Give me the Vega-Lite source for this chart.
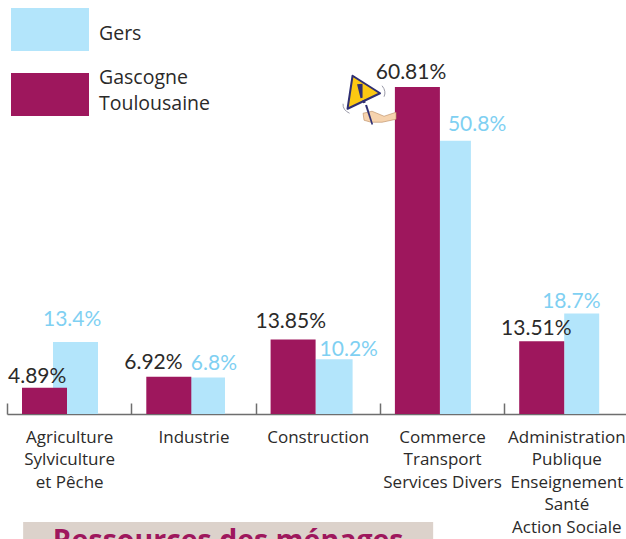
{"$schema":"https://vega.github.io/schema/vega-lite/v6.json","width":619,"height":414,"autosize":{"type":"none"},"padding":{"left":7,"top":0,"right":0,"bottom":125},"background":"white","config":{"view":{"stroke":null}},
"data":{"values":[
{"category":"Agriculture|Sylviculture|et Pêche","series":"Gers","value":13.4,"label":"13.4%"},
{"category":"Industrie","series":"Gers","value":6.8,"label":"6.8%"},
{"category":"Construction","series":"Gers","value":10.2,"label":"10.2%"},
{"category":"Commerce|Transport|Services Divers","series":"Gers","value":50.8,"label":"50.8%"},
{"category":"Administration|Publique|Enseignement|Santé|Action Sociale","series":"Gers","value":18.7,"label":"18.7%"},
{"category":"Agriculture|Sylviculture|et Pêche","series":"Gascogne|Toulousaine","value":4.89,"label":"4.89%"},
{"category":"Industrie","series":"Gascogne|Toulousaine","value":6.92,"label":"6.92%"},
{"category":"Construction","series":"Gascogne|Toulousaine","value":13.85,"label":"13.85%"},
{"category":"Commerce|Transport|Services Divers","series":"Gascogne|Toulousaine","value":60.81,"label":"60.81%"},
{"category":"Administration|Publique|Enseignement|Santé|Action Sociale","series":"Gascogne|Toulousaine","value":13.51,"label":"13.51%"}
]},
"encoding":{
"x":{"field":"category","type":"nominal","sort":null,"scale":{"type":"band","paddingInner":0,"paddingOuter":0,"range":[0,621.5],"domain":["Agriculture|Sylviculture|et Pêche","Industrie","Construction","Commerce|Transport|Services Divers","Administration|Publique|Enseignement|Santé|Action Sociale"]},"axis":{"title":null,"labelAngle":0,"labelExpr":"split(datum.label,'|')","labelFont":"Open Sans","labelFontSize":17,"labelColor":"#2b2a29","labelLineHeight":22.5,"labelPadding":26,"labelBaseline":"top","labelLimit":0,"labelOverlap":false,"tickBand":"extent","tickSize":-11,"tickColor":"#6e6e6e","tickWidth":1.5,"domainColor":"#6e6e6e","domainWidth":1.5,"grid":false,"zindex":0}},
"y":{"field":"value","type":"quantitative","stack":null,"scale":{"domain":[0,77],"nice":false,"zero":false,"clamp":false},"axis":null},
"color":{"field":"series","type":"nominal","scale":{"domain":["Gers","Gascogne|Toulousaine"],"range":["#b3e5fb","#9e175d"]},"legend":{"title":null,"orient":"none","legendX":4,"legendY":-9.5,"columns":1,"symbolType":"M-1,-0.551H1V0.551H-1Z","symbolSize":6084,"symbolStrokeWidth":0,"symbolOpacity":1,"labelExpr":"split(datum.label,'|')","labelFont":"Open Sans","labelFontSize":19.5,"labelColor":"#2b2a29","labelOffset":10,"labelLimit":0,"encode":{"symbols":{"update":{"shape":{"signal":"datum.label=='Gers'?'M-1,-0.551H1V0.551H-1Z':'M-1,-0.499H1V0.603H-1Z'"}}},"labels":{"update":{"lineHeight":{"value":26},"dy":{"signal":"datum.label=='Gers'?4.5:-15"}}}}}}
},
"layer":[
{"transform":[{"filter":{"field":"label","equal":"13.4%"}}],"mark":{"type":"bar","width":45,"xOffset":6.35}},
{"transform":[{"filter":{"field":"label","equal":"6.8%"}}],"mark":{"type":"bar","width":34,"xOffset":14.55}},
{"transform":[{"filter":{"field":"label","equal":"10.2%"}}],"mark":{"type":"bar","width":37,"xOffset":16.35}},
{"transform":[{"filter":{"field":"label","equal":"50.8%"}}],"mark":{"type":"bar","width":31,"xOffset":13.35}},
{"transform":[{"filter":{"field":"label","equal":"18.7%"}}],"mark":{"type":"bar","width":35,"xOffset":15.35}},
{"transform":[{"filter":{"field":"series","equal":"Gascogne|Toulousaine"}}],"mark":{"type":"bar","width":45,"xOffset":-24.65}},
{"transform":[{"filter":{"field":"label","equal":"13.4%"}}],"mark":{"type":"text","font":"Lato","fontSize":21,"baseline":"alphabetic","dx":3,"dy":-16},"encoding":{"text":{"field":"label"},"color":{"value":"#7fd0f2"}}},
{"transform":[{"filter":{"field":"label","equal":"6.8%"}}],"mark":{"type":"text","font":"Lato","fontSize":21,"baseline":"alphabetic","dx":20.5,"dy":-7},"encoding":{"text":{"field":"label"},"color":{"value":"#7fd0f2"}}},
{"transform":[{"filter":{"field":"label","equal":"10.2%"}}],"mark":{"type":"text","font":"Lato","fontSize":21,"baseline":"alphabetic","dx":31,"dy":-3},"encoding":{"text":{"field":"label"},"color":{"value":"#7fd0f2"}}},
{"transform":[{"filter":{"field":"label","equal":"50.8%"}}],"mark":{"type":"text","font":"Lato","fontSize":21,"baseline":"alphabetic","dx":35,"dy":-10},"encoding":{"text":{"field":"label"},"color":{"value":"#7fd0f2"}}},
{"transform":[{"filter":{"field":"label","equal":"18.7%"}}],"mark":{"type":"text","font":"Lato","fontSize":21,"baseline":"alphabetic","dx":5,"dy":-5},"encoding":{"text":{"field":"label"},"color":{"value":"#7fd0f2"}}},
{"transform":[{"filter":{"field":"label","equal":"4.89%"}}],"mark":{"type":"text","font":"Lato","fontSize":21,"baseline":"alphabetic","dx":-32,"dy":-5},"encoding":{"text":{"field":"label"},"color":{"value":"#2b2a29"}}},
{"transform":[{"filter":{"field":"label","equal":"6.92%"}}],"mark":{"type":"text","font":"Lato","fontSize":21,"baseline":"alphabetic","dx":-40,"dy":-8},"encoding":{"text":{"field":"label"},"color":{"value":"#2b2a29"}}},
{"transform":[{"filter":{"field":"label","equal":"13.85%"}}],"mark":{"type":"text","font":"Lato","fontSize":21,"baseline":"alphabetic","dx":-27,"dy":-11.5},"encoding":{"text":{"field":"label"},"color":{"value":"#2b2a29"}}},
{"transform":[{"filter":{"field":"label","equal":"60.81%"}}],"mark":{"type":"text","font":"Lato","fontSize":21,"baseline":"alphabetic","dx":-31,"dy":-8},"encoding":{"text":{"field":"label"},"color":{"value":"#2b2a29"}}},
{"transform":[{"filter":{"field":"label","equal":"13.51%"}}],"mark":{"type":"text","font":"Lato","fontSize":21,"baseline":"alphabetic","dx":-30,"dy":-6},"encoding":{"text":{"field":"label"},"color":{"value":"#2b2a29"}}},
{"data":{"values":[{"panel":"Ressources des ménages","category":"Construction","value":-20.1,"bottom":-26}]},"mark":{"type":"bar","width":410,"xOffset":-89.6},"encoding":{"y2":{"field":"bottom"},"color":{"value":"#dcd2cb"}}},
{"data":{"values":[{"panel":"Ressources des ménages","category":"Construction","value":-25.3}]},"mark":{"type":"text","font":"Open Sans","fontWeight":"bold","fontSize":28.5,"baseline":"alphabetic","dx":-89.6},"encoding":{"text":{"field":"panel"},"color":{"value":"#9e175d"}}},
{"data":{"values":[{"icon":"arm","category":"Commerce|Transport|Services Divers","value":59.1}]},"mark":{"type":"point","filled":true,"opacity":1,"size":2500,"xOffset":-80,"stroke":"#b98a60","strokeWidth":0.6,"shape":"M0.04,0.68L0.4,0.6L0.88,0.8L1.36,0.64L1.36,0.92L0.8,1.04L0.36,1.04L0.08,0.96Z"},"encoding":{"color":{"value":"#f6d3ae"}}},
{"data":{"values":[{"icon":"stick","category":"Commerce|Transport|Services Divers","value":59.1}]},"mark":{"type":"point","filled":true,"opacity":1,"size":2500,"xOffset":-80,"shape":"M0.12,0.36L0.2,0.34L0.44,1.12L0.38,1.14Z"},"encoding":{"color":{"value":"#2f2f73"}}},
{"data":{"values":[{"icon":"sign","category":"Commerce|Transport|Services Divers","value":59.1}]},"mark":{"type":"point","filled":true,"opacity":1,"size":2500,"xOffset":-80,"stroke":"#2f2f73","strokeWidth":2,"strokeJoin":"round","shape":"M-0.38,-0.82L0.72,-0.12L-0.58,0.5Z"},"encoding":{"color":{"value":"#fbc813"}}},
{"data":{"values":[{"icon":"mark","category":"Commerce|Transport|Services Divers","value":59.1}]},"mark":{"type":"point","filled":true,"opacity":1,"size":2500,"xOffset":-80,"shape":"M-0.2,-0.48L0.02,-0.5L0.02,0.06L-0.06,0.08ZM0.02,0.16L0.12,0.14L0.14,0.26L0.04,0.28Z"},"encoding":{"color":{"value":"#2f2f73"}}},
{"data":{"values":[{"icon":"shake","category":"Commerce|Transport|Services Divers","value":59.1}]},"mark":{"type":"point","filled":false,"opacity":1,"size":2500,"xOffset":-80,"strokeWidth":1,"shape":"M-0.76,0.3Q-0.78,0.55-0.5,0.68M0.8,-0.42Q0.98,-0.2,0.88,0.02"},"encoding":{"color":{"value":"#9a9aa8"}}}
]}
